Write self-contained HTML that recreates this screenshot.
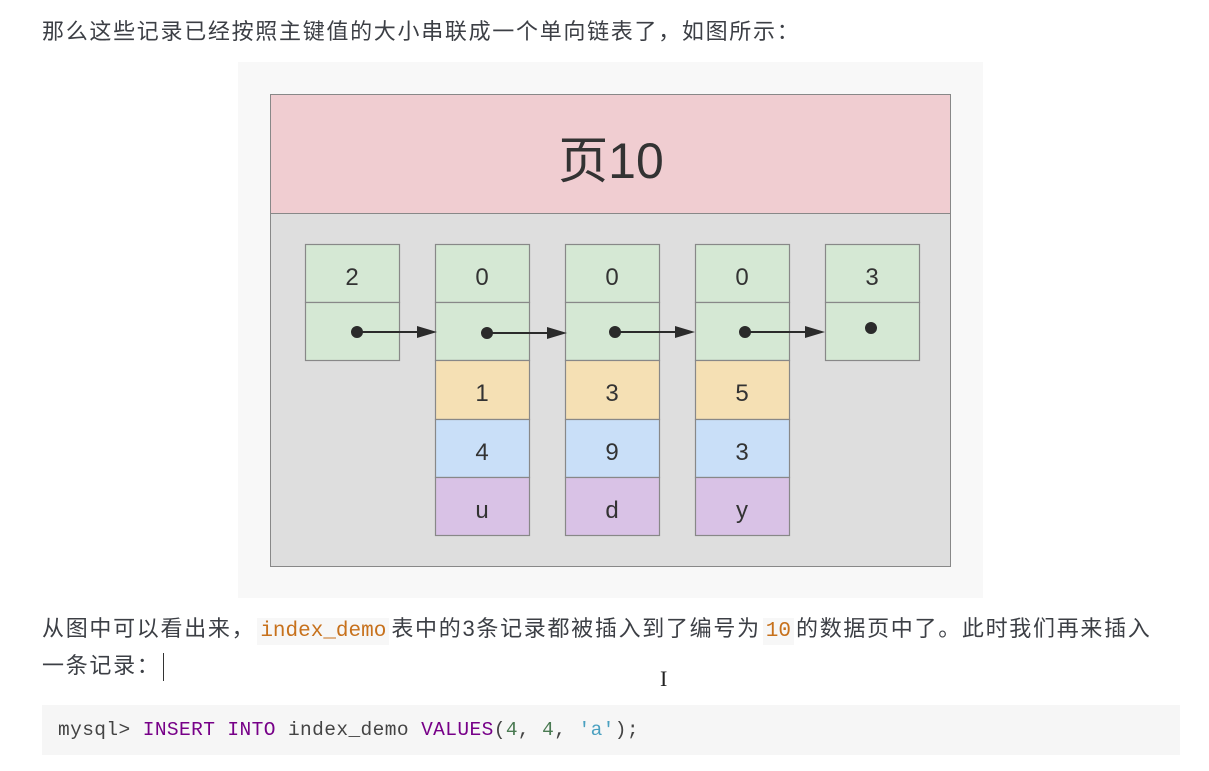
<!DOCTYPE html>
<html><head><meta charset="utf-8"><style>
body{margin:0;width:1209px;height:771px;background:#fff;position:relative;overflow:hidden;font-family:"Liberation Sans","Noto Sans CJK SC",sans-serif;color:#3c3f45}
.t{position:absolute;left:42px;font-size:22px;letter-spacing:1.7px;white-space:nowrap;line-height:30px}
code{font-family:"Liberation Mono",monospace;font-size:21px;letter-spacing:0;color:#c7711c;background:#f7f7f7;padding:2px 3px;margin:0 2px}
.code{position:absolute;left:42px;top:705px;width:1138px;height:50px;background:#f6f6f6}
.code pre{margin:0;position:absolute;left:16px;top:14px;font-family:"Liberation Mono",monospace;font-size:19.5px;color:#444;letter-spacing:0.4px}
</style></head><body>
<div class="t" style="top:17px">那么这些记录已经按照主键值的大小串联成一个单向链表了，如图所示：</div>
<svg style="position:absolute;left:0;top:0" width="1209" height="771" font-family="Liberation Sans, Noto Sans CJK SC, sans-serif">
<rect x="238" y="62" width="745" height="536" fill="#f8f8f8"/>
<rect x="270.5" y="94.5" width="680" height="119" fill="#f0cdd1" stroke="#888"/>
<rect x="270.5" y="213.5" width="680" height="353" fill="#dedede" stroke="#888"/>
<text x="611" y="178" font-size="50" text-anchor="middle" fill="#333">页10</text>
<g stroke="#888" stroke-width="1.2" font-size="24" fill="#333" text-anchor="middle">
<rect x="305.5" y="244.5" width="94" height="58" fill="#d5e8d4"/><rect x="305.5" y="302.5" width="94" height="58" fill="#d5e8d4"/>
<rect x="435.5" y="244.5" width="94" height="58" fill="#d5e8d4"/><rect x="435.5" y="302.5" width="94" height="58" fill="#d5e8d4"/>
<rect x="435.5" y="360.5" width="94" height="59" fill="#f5e0b4"/><rect x="435.5" y="419.5" width="94" height="58" fill="#c9dff8"/><rect x="435.5" y="477.5" width="94" height="58" fill="#d9c2e6"/>
<rect x="565.5" y="244.5" width="94" height="58" fill="#d5e8d4"/><rect x="565.5" y="302.5" width="94" height="58" fill="#d5e8d4"/>
<rect x="565.5" y="360.5" width="94" height="59" fill="#f5e0b4"/><rect x="565.5" y="419.5" width="94" height="58" fill="#c9dff8"/><rect x="565.5" y="477.5" width="94" height="58" fill="#d9c2e6"/>
<rect x="695.5" y="244.5" width="94" height="58" fill="#d5e8d4"/><rect x="695.5" y="302.5" width="94" height="58" fill="#d5e8d4"/>
<rect x="695.5" y="360.5" width="94" height="59" fill="#f5e0b4"/><rect x="695.5" y="419.5" width="94" height="58" fill="#c9dff8"/><rect x="695.5" y="477.5" width="94" height="58" fill="#d9c2e6"/>
<rect x="825.5" y="244.5" width="94" height="58" fill="#d5e8d4"/><rect x="825.5" y="302.5" width="94" height="58" fill="#d5e8d4"/>
</g>
<g font-size="24" fill="#333" text-anchor="middle">
<text x="352" y="285">2</text><text x="482" y="285">0</text><text x="612" y="285">0</text><text x="742" y="285">0</text><text x="872" y="285">3</text>
<text x="482" y="401">1</text><text x="612" y="401">3</text><text x="742" y="401">5</text>
<text x="482" y="460">4</text><text x="612" y="460">9</text><text x="742" y="460">3</text>
<text x="482" y="518">u</text><text x="612" y="518">d</text><text x="742" y="518">y</text>
</g>
<g fill="#2b2b2b" stroke="#2b2b2b" stroke-width="2">
<circle cx="357" cy="332" r="5"/><line x1="357" y1="332" x2="418" y2="332"/><polygon points="417,326 437,332 417,338" stroke="none"/>
<circle cx="487" cy="333" r="5"/><line x1="487" y1="333" x2="548" y2="333"/><polygon points="547,327 567,333 547,339" stroke="none"/>
<circle cx="615" cy="332" r="5"/><line x1="615" y1="332" x2="676" y2="332"/><polygon points="675,326 695,332 675,338" stroke="none"/>
<circle cx="745" cy="332" r="5"/><line x1="745" y1="332" x2="806" y2="332"/><polygon points="805,326 825,332 805,338" stroke="none"/>
<circle cx="871" cy="328" r="5"/>
</g>
</svg>
<div class="t" style="top:614px">从图中可以看出来，<code>index_demo</code>表中的3条记录都被插入到了编号为<code>10</code>的数据页中了。此时我们再来插入</div>
<div class="t" style="top:651px">一条记录：<span style="display:inline-block;width:1px;height:28px;background:#333;vertical-align:middle;margin-left:2px"></span></div>
<div style="position:absolute;left:660px;top:666px;font-size:22px;color:#222;font-family:'Liberation Serif',serif">I</div>
<div class="code"><pre>mysql&gt; <span style="color:#770088">INSERT INTO</span> index_demo <span style="color:#770088">VALUES</span>(<span style="color:#4a7a52">4</span>, <span style="color:#4a7a52">4</span>, <span style="color:#4aa0c0">'a'</span>);</pre></div>
</body></html>
